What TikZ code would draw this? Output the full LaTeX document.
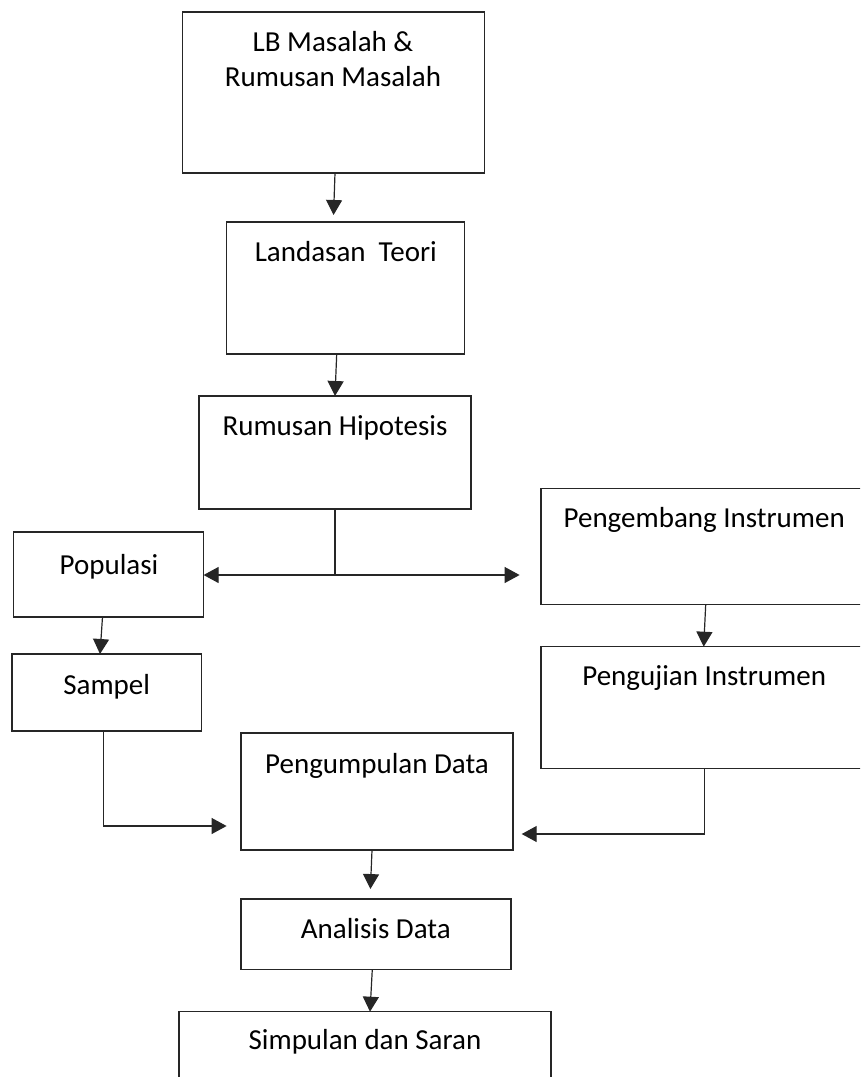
\documentclass[tikz,border=0pt]{standalone}
\usepackage{fontspec}
\setmainfont{Carlito}
\usetikzlibrary{arrows.meta}
\begin{document}
\begin{tikzpicture}[x=1pt,y=-1pt,
  box/.style={draw=black!85, line width=1.2pt, inner sep=0pt, outer sep=0pt},
  lbl/.style={font=\fontsize{29}{35}\selectfont, anchor=base, inner sep=0pt},
  ln/.style={draw=black!85, line width=1.2pt},
  arr/.style={ln, -{Triangle[length=15pt,width=16pt]}}]
\useasboundingbox (0,0) rectangle (860,1077);
\clip (0,0) rectangle (860,1077);
% boxes
\node[box, minimum width=302pt, minimum height=161pt] (b1) at (333.5,92.5) {};
\node[box, minimum width=237.6pt, minimum height=132pt] (b2) at (345.5,288) {};
\node[box, minimum width=272pt, minimum height=113pt] (b3) at (335,452.5) {};
\node[box, minimum width=190pt, minimum height=85pt] (pop) at (108.6,574.5) {};
\node[box, minimum width=189.4pt, minimum height=77pt] (sam) at (106.7,692.5) {};
\node[box, minimum width=339pt, minimum height=116.4pt] (peng1) at (710.5,546.5) {};
\node[box, minimum width=339pt, minimum height=121.8pt] (peng2) at (710.5,707.6) {};
\node[box, minimum width=272pt, minimum height=117pt] (pum) at (377,791.5) {};
\node[box, minimum width=270pt, minimum height=70.3pt] (ana) at (376,934.2) {};
\node[box, minimum width=372pt, minimum height=88.3pt] (sim) at (365,1055.85) {};
% labels
\node[lbl] (t1a) at (333,51.7) {LB Masalah \&};
\node[lbl] (t1b) at (333,86.7) {Rumusan Masalah};
\node[lbl] (t2) at (345.8,261.7) {Landasan\ \ Teori};
\node[lbl] (t3) at (335,435) {Rumusan Hipotesis};
\node[lbl] (tpop) at (109,574) {Populasi};
\node[lbl] (tsam) at (106.7,694.7) {Sampel};
\node[lbl] (tpeng1) at (704.2,527.3) {Pengembang Instrumen};
\node[lbl] (tpeng2) at (704.2,685) {Pengujian Instrumen};
\node[lbl] (tpum) at (377,773) {Pengumpulan Data};
\node[lbl] (tana) at (375.8,938.3) {Analisis Data};
\node[lbl] (tsim) at (365,1049.3) {Simpulan dan Saran};
% connectors
\draw[arr, shorten >=7pt] ([xshift=1.5pt]b1.south) -- ([xshift=-12.2pt]b2.north);
\draw[arr] ([xshift=-8.8pt]b2.south) -- (b3.north);
\coordinate (j) at (335,575);
\draw[ln] (b3.south) -- (j);
\draw[arr] (j) -- (j -| pop.east);
\draw[arr, shorten >=21.4pt] (j) -- (j -| peng1.west);
\draw[arr] ([xshift=-6.1pt]pop.south) -- ([xshift=-6.7pt]sam.north);
\draw[arr] ([xshift=-4.8pt]peng1.south) -- ([xshift=-6.8pt]peng2.north);
\draw[arr, shorten >=14.4pt] ([xshift=-3.4pt]sam.south) |- ([yshift=-34.5pt]pum.west);
\draw[arr, shorten >=8.7pt] ([xshift=-6.2pt]peng2.south) |- ([yshift=-42.5pt]pum.east);
\draw[arr, shorten >=10pt] ([xshift=-5pt]pum.south) -- ([xshift=-6pt]ana.north);
\draw[arr] ([xshift=-3.7pt]ana.south) -- ([xshift=5pt]sim.north);
\end{tikzpicture}
\end{document}
